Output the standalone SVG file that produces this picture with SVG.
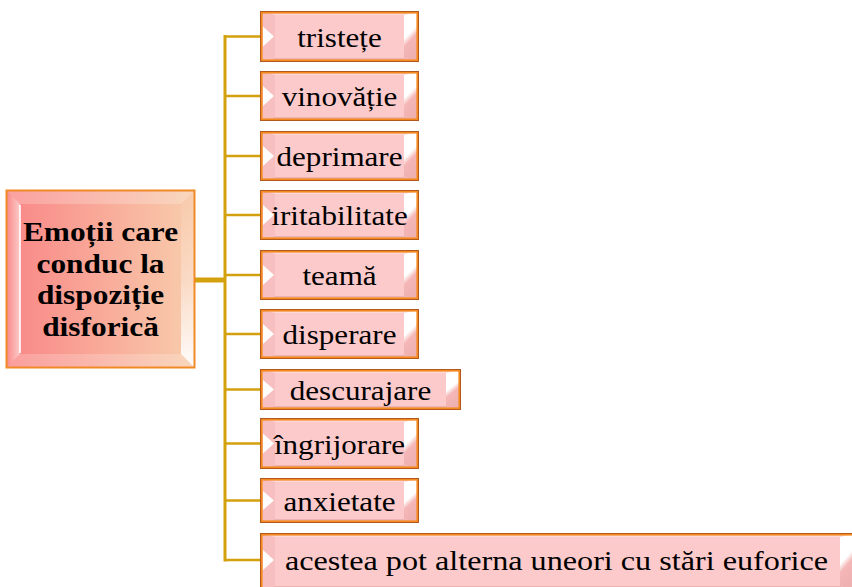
<svg xmlns="http://www.w3.org/2000/svg" width="852" height="587" viewBox="0 0 852 587">
<defs>
<linearGradient id="gMain" x1="0" y1="0" x2="1" y2="0">
<stop offset="0" stop-color="#F98686"/>
<stop offset="1" stop-color="#F8CDAC"/>
</linearGradient>
<linearGradient id="gR" x1="0" y1="0" x2="0.3" y2="1">
<stop offset="0" stop-color="#FFFFFF"/>
<stop offset="0.5" stop-color="#FFFFFF"/>
<stop offset="0.65" stop-color="#F4B6B6"/>
<stop offset="1" stop-color="#EFB0B0"/>
</linearGradient>
<linearGradient id="gMR" x1="0" y1="0" x2="0" y2="1">
<stop offset="0" stop-color="#FFFFFF" stop-opacity="0"/>
<stop offset="0.5" stop-color="#FFFFFF" stop-opacity="0.3"/>
<stop offset="1" stop-color="#FFFFFF" stop-opacity="0.95"/>
</linearGradient>
<linearGradient id="gML" x1="0" y1="0" x2="1" y2="0">
<stop offset="0" stop-color="#FFFFFF" stop-opacity="0"/>
<stop offset="1" stop-color="#FFFFFF" stop-opacity="0.55"/>
</linearGradient>
</defs>
<style>
.box{fill:#FCCACA}
.bt{fill:#FFD9D9}
.bb{fill:#EDB3B3}
.bl{fill:#F7BFBF}
.br{fill:url(#gR)}
.tri{fill:#FFFFFF;opacity:0.95}
.bo{fill:none;stroke:#B25A1E;stroke-width:1}
.bi{fill:none;stroke:#F4891F;stroke-width:1.6}
.t{font-family:"Liberation Serif","Times New Roman",serif;font-size:28px;fill:#000;text-anchor:middle}
.tb{font-family:"Liberation Serif","Times New Roman",serif;font-size:28px;font-weight:bold;fill:#000;text-anchor:middle}
.ln{stroke:#D4A10E;fill:none}
</style>

<g id="connectors">
<line class="ln" x1="195" y1="280" x2="226" y2="280" stroke-width="5"/>
<line class="ln" x1="225" y1="35" x2="225" y2="561.5" stroke-width="3"/>
<line class="ln" x1="225" y1="36.5" x2="260" y2="36.5" stroke-width="2.5"/>
<line class="ln" x1="225" y1="96" x2="260" y2="96" stroke-width="2.5"/>
<line class="ln" x1="225" y1="156" x2="260" y2="156" stroke-width="2.5"/>
<line class="ln" x1="225" y1="215" x2="260" y2="215" stroke-width="2.5"/>
<line class="ln" x1="225" y1="275" x2="260" y2="275" stroke-width="2.5"/>
<line class="ln" x1="225" y1="334" x2="260" y2="334" stroke-width="2.5"/>
<line class="ln" x1="225" y1="389.5" x2="260" y2="389.5" stroke-width="2.5"/>
<line class="ln" x1="225" y1="443.5" x2="260" y2="443.5" stroke-width="2.5"/>
<line class="ln" x1="225" y1="500.5" x2="260" y2="500.5" stroke-width="2.5"/>
<line class="ln" x1="225" y1="560" x2="260" y2="560" stroke-width="2.5"/>
</g>

<g id="main">
<rect x="6" y="190" width="189" height="178" fill="url(#gMain)"/>
<polygon points="6,190 195,190 181,204 20,204" fill="#FFFFFF" opacity="0.22"/>
<polygon points="6,368 195,368 181,354 20,354" fill="#FFFFFF" opacity="0.2"/>
<polygon points="6,190 20,204 20,354 6,368" fill="url(#gML)"/>
<polygon points="195,190 181,204 181,354 195,368" fill="url(#gMR)"/>
<line x1="20" y1="205" x2="20" y2="353" stroke="#FFFFFF" stroke-width="2" opacity="0.8"/>
<rect x="6.5" y="190.5" width="188" height="177" fill="none" stroke="#F08A26" stroke-width="2"/>
<text class="tb" transform="translate(100.5,241) scale(1.12,1)">Emoții care</text>
<text class="tb" transform="translate(100.5,273) scale(1.12,1)">conduc la</text>
<text class="tb" transform="translate(100.5,304) scale(1.12,1)">dispoziție</text>
<text class="tb" transform="translate(100.5,336) scale(1.12,1)">disforică</text>
</g>

<g id="n1">
<rect class="box" x="260" y="11" width="159" height="51"/>
<polygon class="bt" points="260,11 419,11 404,15 275,15"/>
<polygon class="bb" points="260,62 419,62 404,58 275,58"/>
<polygon class="bl" points="260,11 275,15 275,58 260,62"/>
<polygon class="br" points="419,11 404,15 404,58 419,62"/>
<polygon class="tri" points="263,26.5 274,36.5 263,46.5"/>
<rect class="bo" x="260.5" y="11.5" width="158" height="50"/>
<rect class="bi" x="261.8" y="12.8" width="155.4" height="47.4"/>
<text class="t" transform="translate(339.5,46.5) scale(1.11,1)">tristețe</text>
</g>

<g id="n2">
<rect class="box" x="260" y="71" width="159" height="50"/>
<polygon class="bt" points="260,71 419,71 404,75 275,75"/>
<polygon class="bb" points="260,121 419,121 404,117 275,117"/>
<polygon class="bl" points="260,71 275,75 275,117 260,121"/>
<polygon class="br" points="419,71 404,75 404,117 419,121"/>
<polygon class="tri" points="263,86 274,96 263,106"/>
<rect class="bo" x="260.5" y="71.5" width="158" height="49"/>
<rect class="bi" x="261.8" y="72.8" width="155.4" height="46.4"/>
<text class="t" transform="translate(339.5,106) scale(1.11,1)">vinovăție</text>
</g>

<g id="n3">
<rect class="box" x="260" y="131" width="159" height="50"/>
<polygon class="bt" points="260,131 419,131 404,135 275,135"/>
<polygon class="bb" points="260,181 419,181 404,177 275,177"/>
<polygon class="bl" points="260,131 275,135 275,177 260,181"/>
<polygon class="br" points="419,131 404,135 404,177 419,181"/>
<polygon class="tri" points="263,146 274,156 263,166"/>
<rect class="bo" x="260.5" y="131.5" width="158" height="49"/>
<rect class="bi" x="261.8" y="132.8" width="155.4" height="46.4"/>
<text class="t" transform="translate(339.5,166) scale(1.11,1)">deprimare</text>
</g>

<g id="n4">
<rect class="box" x="260" y="190" width="159" height="50"/>
<polygon class="bt" points="260,190 419,190 404,194 275,194"/>
<polygon class="bb" points="260,240 419,240 404,236 275,236"/>
<polygon class="bl" points="260,190 275,194 275,236 260,240"/>
<polygon class="br" points="419,190 404,194 404,236 419,240"/>
<polygon class="tri" points="263,205 274,215 263,225"/>
<rect class="bo" x="260.5" y="190.5" width="158" height="49"/>
<rect class="bi" x="261.8" y="191.8" width="155.4" height="46.4"/>
<text class="t" transform="translate(339.5,225) scale(1.11,1)">iritabilitate</text>
</g>

<g id="n5">
<rect class="box" x="260" y="250" width="159" height="50"/>
<polygon class="bt" points="260,250 419,250 404,254 275,254"/>
<polygon class="bb" points="260,300 419,300 404,296 275,296"/>
<polygon class="bl" points="260,250 275,254 275,296 260,300"/>
<polygon class="br" points="419,250 404,254 404,296 419,300"/>
<polygon class="tri" points="263,265 274,275 263,285"/>
<rect class="bo" x="260.5" y="250.5" width="158" height="49"/>
<rect class="bi" x="261.8" y="251.8" width="155.4" height="46.4"/>
<text class="t" transform="translate(339.5,285) scale(1.11,1)">teamă</text>
</g>

<g id="n6">
<rect class="box" x="260" y="309" width="159" height="50"/>
<polygon class="bt" points="260,309 419,309 404,313 275,313"/>
<polygon class="bb" points="260,359 419,359 404,355 275,355"/>
<polygon class="bl" points="260,309 275,313 275,355 260,359"/>
<polygon class="br" points="419,309 404,313 404,355 419,359"/>
<polygon class="tri" points="263,324 274,334 263,344"/>
<rect class="bo" x="260.5" y="309.5" width="158" height="49"/>
<rect class="bi" x="261.8" y="310.8" width="155.4" height="46.4"/>
<text class="t" transform="translate(339.5,344) scale(1.11,1)">disperare</text>
</g>

<g id="n7">
<rect class="box" x="260" y="369" width="201" height="41"/>
<polygon class="bt" points="260,369 461,369 446,373 275,373"/>
<polygon class="bb" points="260,410 461,410 446,406 275,406"/>
<polygon class="bl" points="260,369 275,373 275,406 260,410"/>
<polygon class="br" points="461,369 446,373 446,406 461,410"/>
<polygon class="tri" points="263,380 274,389.5 263,399"/>
<rect class="bo" x="260.5" y="369.5" width="200" height="40"/>
<rect class="bi" x="261.8" y="370.8" width="197.4" height="37.4"/>
<text class="t" transform="translate(360.5,399.5) scale(1.11,1)">descurajare</text>
</g>

<g id="n8">
<rect class="box" x="260" y="418" width="159" height="51"/>
<polygon class="bt" points="260,418 419,418 404,422 275,422"/>
<polygon class="bb" points="260,469 419,469 404,465 275,465"/>
<polygon class="bl" points="260,418 275,422 275,465 260,469"/>
<polygon class="br" points="419,418 404,422 404,465 419,469"/>
<polygon class="tri" points="263,433.5 274,443.5 263,453.5"/>
<rect class="bo" x="260.5" y="418.5" width="158" height="50"/>
<rect class="bi" x="261.8" y="419.8" width="155.4" height="47.4"/>
<text class="t" transform="translate(339.5,453.5) scale(1.11,1)">îngrijorare</text>
</g>

<g id="n9">
<rect class="box" x="260" y="478" width="159" height="45"/>
<polygon class="bt" points="260,478 419,478 404,482 275,482"/>
<polygon class="bb" points="260,523 419,523 404,519 275,519"/>
<polygon class="bl" points="260,478 275,482 275,519 260,523"/>
<polygon class="br" points="419,478 404,482 404,519 419,523"/>
<polygon class="tri" points="263,491 274,500.5 263,510"/>
<rect class="bo" x="260.5" y="478.5" width="158" height="44"/>
<rect class="bi" x="261.8" y="479.8" width="155.4" height="41.4"/>
<text class="t" transform="translate(339.5,510.5) scale(1.11,1)">anxietate</text>
</g>

<g id="n10">
<rect class="box" x="260" y="533" width="595" height="57"/>
<polygon class="bt" points="260,533 855,533 840,537 275,537"/>
<polygon class="bb" points="260,590 855,590 840,586 275,586"/>
<polygon class="bl" points="260,533 275,537 275,586 260,590"/>
<polygon class="br" points="855,533 840,537 840,586 855,590"/>
<polygon class="tri" points="263,550 274,560 263,570"/>
<rect class="bo" x="260.5" y="533.5" width="594" height="56"/>
<rect class="bi" x="261.8" y="534.8" width="591.4" height="53.4"/>
<text class="t" transform="translate(556.5,570) scale(1.15,1)">acestea pot alterna uneori cu stări euforice</text>
</g>
</svg>
